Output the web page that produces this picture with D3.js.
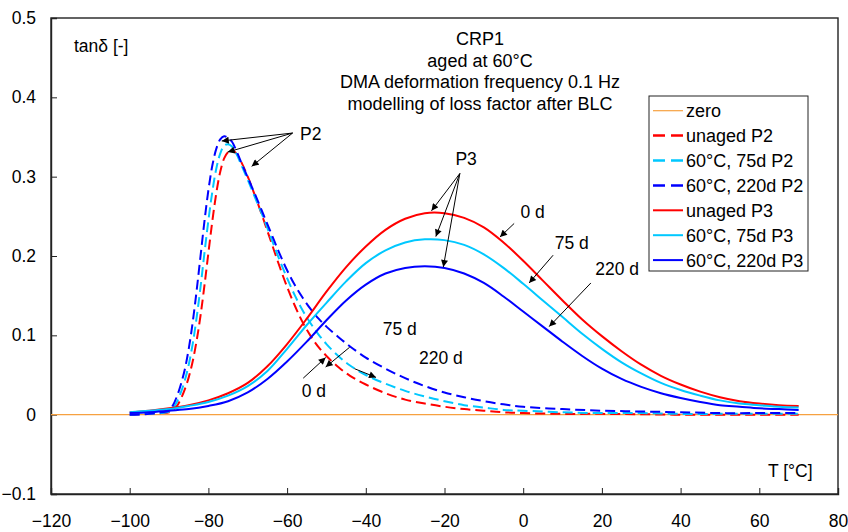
<!DOCTYPE html>
<html>
<head>
<meta charset="utf-8">
<title>CRP1 loss factor</title>
<script src="https://cdn.jsdelivr.net/npm/d3@7"></script>
<style>
  body { margin: 0; background: #fff; }
  svg text { font-family: "Liberation Sans", Arial, sans-serif; font-size: 17.5px; fill: #000; }
</style>
</head>
<body>
<div id="chart"></div>
<script>
// temperatures [°C] for the P2 (dashed) model curves
var tP2 = [-100,-95,-92,-90,-89,-88,-87,-86,-85,-84,-83,-82,-81,-80,-79,-78,-77,-76,-75,-74,-73,-72,
  -70,-68,-66,-64,-62,-60,-58,-56,-54,-52,-50,-47,-44,-40,-35,-30,-25,-20,-15,-10,-5,0,10,20,30,40,50,60,70];

var unagedP2 = [0,0.001,0.002,0.003,0.006,0.011,0.020,0.032,0.047,0.067,0.093,0.125,0.163,0.204,0.244,0.279,0.306,0.323,0.331,0.333,0.330,0.322,
  0.300,0.274,0.246,0.217,0.188,0.161,0.137,0.116,0.099,0.085,0.074,0.060,0.049,0.038,0.027,0.019,0.014,0.010,0.007,0.005,0.003,0.002,0.001,0.001,0.0005,0,0,0,0];
var aged75P2 = [0,0.001,0.002,0.004,0.008,0.016,0.028,0.043,0.063,0.089,0.122,0.161,0.204,0.245,0.281,0.310,0.329,0.339,0.341,0.338,0.330,0.319,
  0.296,0.272,0.248,0.222,0.196,0.172,0.150,0.131,0.115,0.101,0.089,0.074,0.062,0.050,0.039,0.030,0.023,0.017,0.012,0.009,0.006,0.005,0.003,0.002,0.002,0.001,0.001,0.001,0.001];
var aged220P2 = [0,0.001,0.003,0.005,0.012,0.023,0.038,0.057,0.083,0.116,0.156,0.200,0.244,0.283,0.314,0.335,0.347,0.351,0.349,0.344,0.334,0.322,
  0.299,0.276,0.252,0.228,0.204,0.182,0.163,0.147,0.133,0.121,0.111,0.098,0.086,0.072,0.058,0.046,0.036,0.028,0.022,0.017,0.013,0.010,0.007,0.005,0.004,0.003,0.002,0.002,0.002];

// temperatures [°C] for the P3 (solid) model curves
var tP3 = [-100,-95,-90,-85,-80,-75,-70,-65,-60,-55,-50,-45,-40,-35,-30,-25,-20,-15,-10,-5,0,5,10,15,20,25,30,35,40,45,50,55,60,65,70];

var unagedP3 = [0.003,0.005,0.008,0.012,0.018,0.027,0.040,0.061,0.089,0.121,0.155,0.186,0.212,0.233,0.247,0.254,0.254,0.248,0.236,0.217,
  0.194,0.169,0.144,0.120,0.099,0.080,0.063,0.049,0.038,0.029,0.022,0.017,0.014,0.012,0.011];
var aged75P3 = [0.003,0.005,0.007,0.011,0.016,0.024,0.036,0.055,0.083,0.113,0.141,0.168,0.191,0.207,0.217,0.221,0.220,0.214,0.202,0.185,
  0.165,0.144,0.123,0.102,0.083,0.066,0.052,0.040,0.031,0.024,0.018,0.014,0.012,0.010,0.009];
var aged220P3 = [0.002,0.003,0.005,0.007,0.011,0.017,0.028,0.045,0.067,0.092,0.119,0.144,0.164,0.178,0.185,0.187,0.185,0.178,0.166,0.149,
  0.130,0.111,0.092,0.074,0.058,0.045,0.035,0.027,0.021,0.016,0.012,0.010,0.008,0.007,0.006];

var xTicks = [-120,-100,-80,-60,-40,-20,0,20,40,60,80];
var yTicks = [-0.1,0,0.1,0.2,0.3,0.4,0.5];

var legendNames = ["zero","unaged P2","60°C, 75d P2","60°C, 220d P2","unaged P3","60°C, 75d P3","60°C, 220d P3"];

var titleLines = ["CRP1","aged at 60°C","DMA deformation frequency 0.1 Hz","modelling of loss factor after BLC"];

// arrows: [fromT, fromV, toT, toV] in data units
var arrowsP2 = [[-58.6,0.355,-76.6,0.345],[-58.6,0.355,-75.1,0.331],[-58.6,0.355,-69.0,0.313]];
var arrowsP3 = [[-16.1,0.304,-23.3,0.257],[-16.1,0.304,-22.2,0.2245],[-16.1,0.304,-20.3,0.186]];
var dayArrows = [
  [-2.3,0.241,-5.9,0.224],[7.6,0.201,1.5,0.166],[17.2,0.166,6.6,0.111],
  [-55.9,0.046,-50.2,0.072],[-44.1,0.085,-50.2,0.060],[-42.9,0.058,-37.4,0.047]
];
// labels: [text, T, v, anchor]
var labels = [
  ["P2",-56.7,0.346,"start"],["P3",-14.5,0.315,"middle"],
  ["0 d",-0.7,0.248,"start"],["75 d",8.0,0.209,"start"],["220 d",18.3,0.176,"start"],
  ["0 d",-56.3,0.022,"start"],["75 d",-35.7,0.1,"start"],["220 d",-26.5,0.064,"start"]
];

var width = 848, height = 532;
var svg = d3.select("#chart").append("svg")
  .attr("width", width).attr("height", height);

var x = d3.scaleLinear().domain([-120, 80]).range([51, 838]);
var y = d3.scaleLinear().domain([-0.1, 0.5]).range([494, 18]);

var colRed = "#ff0000", colCyan = "#00c8ff", colBlue = "#0000ff", colZero = "#f6a140";

// frame
svg.append("rect")
  .attr("x", x(-120)).attr("y", y(0.5))
  .attr("width", x(80) - x(-120)).attr("height", y(-0.1) - y(0.5))
  .attr("fill", "none").attr("stroke", "#222").attr("stroke-width", 1.4);

var fmtY = function(d) { return d === 0 ? "0" : d3.format(".1f")(d); };

var yAxis = svg.append("g")
  .attr("transform", "translate(" + x(-120) + ",0)")
  .call(d3.axisLeft(y).tickValues(yTicks).tickSize(-6).tickPadding(15).tickFormat(fmtY));
var xAxis = svg.append("g")
  .attr("transform", "translate(0," + y(-0.1) + ")")
  .call(d3.axisBottom(x).tickValues(xTicks).tickSize(-6).tickPadding(21).tickFormat(d3.format("d")));
[xAxis, yAxis].forEach(function(a) {
  a.select(".domain").attr("stroke", "#222").attr("stroke-width", 1.4);
  a.selectAll(".tick line").attr("stroke", "#222");
  a.selectAll("text").style("font-size", "17.5px").attr("fill", "#000")
    .style("font-family", "Liberation Sans, Arial, sans-serif");
});

// zero line
svg.append("line")
  .attr("x1", x(-120)).attr("x2", x(80))
  .attr("y1", y(0)).attr("y2", y(0))
  .attr("stroke", colZero).attr("stroke-width", 1.2);

var line = d3.line()
  .x(function(d) { return x(d[0]); })
  .y(function(d) { return y(d[1]); })
  .curve(d3.curveCatmullRom.alpha(0.5));

var series = [
  { t: tP2, v: unagedP2, color: colRed, dash: "10,5" },
  { t: tP2, v: aged75P2, color: colCyan, dash: "10,5" },
  { t: tP2, v: aged220P2, color: colBlue, dash: "10,5" },
  { t: tP3, v: unagedP3, color: colRed, dash: null },
  { t: tP3, v: aged75P3, color: colCyan, dash: null },
  { t: tP3, v: aged220P3, color: colBlue, dash: null }
];

series.forEach(function(s) {
  svg.append("path")
    .datum(d3.zip(s.t, s.v))
    .attr("d", line)
    .attr("fill", "none")
    .attr("stroke", s.color)
    .attr("stroke-width", 2)
    .attr("stroke-dasharray", s.dash);
});

// arrow marker
svg.append("defs").append("marker")
  .attr("id", "head")
  .attr("viewBox", "0 0 10 10")
  .attr("refX", 10).attr("refY", 5)
  .attr("markerWidth", 8).attr("markerHeight", 7)
  .attr("markerUnits", "userSpaceOnUse")
  .attr("orient", "auto")
  .append("path").attr("d", "M0,0 L10,5 L0,10 z").attr("fill", "#000");

arrowsP2.concat(arrowsP3, dayArrows).forEach(function(a) {
  svg.append("line")
    .attr("x1", x(a[0])).attr("y1", y(a[1]))
    .attr("x2", x(a[2])).attr("y2", y(a[3]))
    .attr("stroke", "#000").attr("stroke-width", 1)
    .attr("marker-end", "url(#head)");
});

labels.forEach(function(l) {
  svg.append("text")
    .attr("x", x(l[1])).attr("y", y(l[2]))
    .attr("text-anchor", l[3])
    .text(l[0]);
});

// title
svg.append("g").selectAll("text")
  .data(titleLines).enter().append("text")
  .attr("x", 480).attr("y", function(d, i) { return 45 + i * 21.7; })
  .attr("text-anchor", "middle")
  .style("font-size", "18px")
  .text(function(d) { return d; });

// axis titles
svg.append("text").attr("x", 74).attr("y", 52).text("tanδ [-]");
svg.append("text").attr("x", 768).attr("y", 477).text("T [°C]");

// legend
var legend = svg.append("g");
legend.append("rect")
  .attr("x", 649).attr("y", 96).attr("width", 159).attr("height", 175)
  .attr("fill", "#fff").attr("stroke", "#222").attr("stroke-width", 1);

var legendStyles = [
  { color: colZero, dash: null, w: 1.2 },
  { color: colRed, dash: "12,6", w: 2.5 },
  { color: colCyan, dash: "12,6", w: 2.5 },
  { color: colBlue, dash: "12,6", w: 2.5 },
  { color: colRed, dash: null, w: 2 },
  { color: colCyan, dash: null, w: 2 },
  { color: colBlue, dash: null, w: 2 }
];

legendNames.forEach(function(name, i) {
  var cy = 110.7 + i * 24.9;
  legend.append("line")
    .attr("x1", 653).attr("x2", 683).attr("y1", cy).attr("y2", cy)
    .attr("stroke", legendStyles[i].color)
    .attr("stroke-width", legendStyles[i].w)
    .attr("stroke-dasharray", legendStyles[i].dash);
  legend.append("text")
    .attr("x", 686).attr("y", cy + 6.5)
    .style("font-size", "18px")
    .text(name);
});
</script>
</body>
</html>
